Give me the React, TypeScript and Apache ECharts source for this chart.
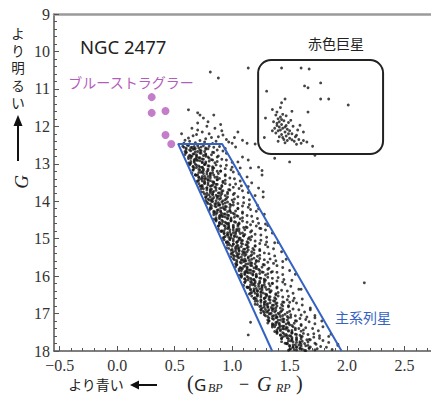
import React, { useEffect, useRef } from 'react';
import * as echarts from 'echarts';

const xRange = [-0.55, 2.73];
const yRange = [9, 18];
const xTickValues = [-0.5, 0, 0.5, 1, 1.5, 2, 2.5];
const xMinorTickValues = [-0.5,-0.4,-0.3,-0.2,-0.1,0,0.1,0.2,0.3,0.4,0.5,0.6,0.7,0.8,0.9,1,1.1,1.2,1.3,1.4,1.5,1.6,1.7,1.8,1.9,2,2.1,2.2,2.3,2.4,2.5,2.6,2.7];

const blueStragglers = [[0.30,11.22],[0.30,11.64],[0.42,11.59],[0.42,12.23],[0.47,12.47]];

const redGiants = [
  [1.14,10.44],[1.43,10.44],[1.60,10.44],[1.67,10.47],[1.77,10.84],[1.63,10.92],[1.66,10.97],[1.30,11.06],
  [1.77,11.27],[1.84,11.27],[2.01,11.43],[1.46,11.27],[1.43,11.37],[1.42,11.50],[1.66,11.62],[1.29,11.78],
  [1.38,11.70],[1.40,11.80],[1.42,11.75],[1.45,11.85],[1.39,11.92],[1.43,11.95],[1.47,11.98],[1.41,12.02],
  [1.44,12.05],[1.48,12.08],[1.37,12.05],[1.40,12.12],[1.46,12.15],[1.50,12.12],[1.52,12.20],[1.43,12.22],
  [1.47,12.26],[1.55,12.28],[1.50,12.32],[1.58,12.35],[1.54,12.40],[1.62,12.38],[1.60,12.45],[1.65,12.42],
  [1.36,11.88],[1.44,11.68],[1.49,11.90],[1.53,12.00],[1.57,12.10],[1.38,12.18],[1.45,12.35],[1.70,12.53],
  [1.72,12.77],[1.50,12.95],[1.59,11.97],[1.62,12.15],[1.28,12.30],[1.35,11.55],[1.52,11.60],[1.41,12.28],
  [1.46,12.02],[1.39,11.98],[1.42,12.10],[1.48,12.38],[1.56,12.48],[1.39,11.62],[1.43,11.82],[1.47,11.72],
  [1.41,11.88],[1.49,12.20],[1.44,12.30],[1.52,12.36],[1.56,12.24],[1.46,12.44],[1.40,12.40],[1.35,12.12],
  [1.51,11.84]
];

const fieldStars = [
  [0.88,10.71],[0.81,10.55],[0.62,11.56],[0.70,11.64],[0.72,11.70],[0.79,11.88],[0.70,11.91],[0.70,12.10],
  [0.65,12.05],[0.74,12.15],[0.85,12.05],[0.82,12.30],[0.92,12.23],[0.62,12.31],[0.59,12.37],[1.00,12.45],
  [1.09,12.37],[0.76,12.42],[0.68,12.44],[0.86,12.40],[0.95,12.35],[0.56,12.20],[0.78,12.00],[0.90,11.95],
  [1.05,12.15],[1.20,12.47],[1.03,12.55],[1.09,12.82],[1.16,13.11],[1.23,13.09],[1.26,13.30],[1.17,13.51],
  [1.27,13.89],[1.37,12.85],[1.05,12.95],[1.14,12.90],[1.26,13.18],[1.23,13.65],[1.27,13.75],[1.23,14.20],
  [1.31,14.65],[1.25,14.73],[1.40,15.10],[1.47,15.55],[1.55,15.95],[1.60,16.35],[1.68,16.90],[1.78,17.20],
  [1.86,17.55],[1.92,17.82],[2.15,16.18],[1.16,17.23],[1.14,17.57],[1.72,17.05],[1.50,16.70],[1.34,15.90],
  [0.66,12.25],[0.72,12.38],[0.80,12.20],[0.88,12.28],[0.97,12.42],[0.75,11.78],[0.84,11.70],[0.63,12.40],
  [0.91,12.12],[1.02,12.30],[1.13,12.45],[0.69,12.22],[0.83,12.46],[0.58,12.45],[0.77,12.33]
];

const mainSequence = [
  [0.57,12.53],[0.60,12.58],[0.62,12.51],[0.65,12.56],[0.68,12.59],[0.70,12.52],[0.73,12.55],[0.77,12.58],[0.80,12.53],[0.84,12.56],[0.89,12.54],[0.94,12.59],
  [0.59,12.67],[0.60,12.62],[0.64,12.65],[0.67,12.60],[0.68,12.68],[0.72,12.64],[0.76,12.67],[0.77,12.61],[0.83,12.69],[0.87,12.63],[0.92,12.66],
  [0.59,12.75],[0.64,12.79],[0.67,12.73],[0.69,12.76],[0.72,12.71],[0.75,12.78],[0.77,12.74],[0.82,12.76],[0.84,12.70],[0.88,12.79],[0.95,12.72],
  [0.62,12.81],[0.64,12.85],[0.67,12.89],[0.69,12.83],[0.72,12.84],[0.74,12.87],[0.77,12.80],[0.80,12.85],[0.82,12.89],[0.87,12.82],[0.91,12.88],
  [0.62,12.98],[0.64,12.94],[0.67,12.96],[0.69,12.90],[0.72,12.92],[0.74,12.95],[0.77,12.99],[0.80,12.93],[0.85,12.97],[0.87,12.94],[0.95,12.90],[1.00,12.96],
  [0.63,13.03],[0.66,13.08],[0.68,13.01],[0.71,13.06],[0.74,13.09],[0.76,13.02],[0.79,13.05],[0.83,13.08],[0.86,13.03],[0.90,13.06],[0.95,13.04],[1.00,13.09],
  [0.66,13.17],[0.67,13.12],[0.71,13.15],[0.74,13.10],[0.75,13.18],[0.79,13.14],[0.83,13.17],[0.84,13.11],[0.90,13.19],[0.94,13.13],[0.99,13.16],[1.07,13.11],
  [0.65,13.25],[0.70,13.29],[0.73,13.23],[0.75,13.26],[0.78,13.21],[0.81,13.28],[0.83,13.24],[0.88,13.26],[0.90,13.20],[0.94,13.29],[1.01,13.22],[1.06,13.27],
  [0.69,13.31],[0.71,13.35],[0.74,13.39],[0.76,13.33],[0.79,13.34],[0.81,13.37],[0.84,13.30],[0.87,13.35],[0.89,13.39],[0.94,13.32],[0.98,13.38],[1.13,13.35],
  [0.69,13.48],[0.71,13.44],[0.74,13.46],[0.76,13.40],[0.79,13.42],[0.81,13.45],[0.84,13.49],[0.87,13.43],[0.92,13.47],[0.94,13.44],[1.02,13.40],[1.07,13.46],
  [0.71,13.53],[0.74,13.58],[0.76,13.51],[0.79,13.56],[0.82,13.59],[0.84,13.52],[0.87,13.55],[0.91,13.58],[0.94,13.53],[0.98,13.56],[1.03,13.54],[1.08,13.59],
  [0.73,13.67],[0.74,13.62],[0.78,13.65],[0.81,13.60],[0.82,13.68],[0.86,13.64],[0.90,13.67],[0.91,13.61],[0.97,13.69],[1.01,13.63],[1.06,13.66],[1.14,13.61],
  [0.73,13.75],[0.78,13.79],[0.81,13.73],[0.83,13.76],[0.86,13.71],[0.89,13.78],[0.91,13.74],[0.96,13.76],[0.98,13.70],[1.02,13.79],[1.09,13.72],[1.14,13.77],
  [0.76,13.81],[0.78,13.85],[0.81,13.89],[0.83,13.83],[0.86,13.84],[0.88,13.87],[0.91,13.80],[0.94,13.85],[0.96,13.89],[1.01,13.82],[1.05,13.88],[1.20,13.85],
  [0.77,13.98],[0.79,13.94],[0.82,13.96],[0.84,13.90],[0.87,13.92],[0.89,13.95],[0.92,13.99],[0.95,13.93],[1.00,13.97],[1.02,13.94],[1.10,13.90],[1.15,13.96],
  [0.78,14.03],[0.81,14.08],[0.83,14.01],[0.86,14.06],[0.89,14.09],[0.91,14.02],[0.94,14.05],[0.98,14.08],[1.01,14.03],[1.05,14.06],[1.10,14.04],[1.15,14.09],
  [0.81,14.17],[0.82,14.12],[0.86,14.15],[0.89,14.10],[0.90,14.18],[0.94,14.14],[0.98,14.17],[0.99,14.11],[1.05,14.19],[1.09,14.13],[1.14,14.16],[1.22,14.11],
  [0.80,14.25],[0.85,14.29],[0.88,14.23],[0.90,14.26],[0.93,14.21],[0.96,14.28],[0.98,14.24],[1.03,14.26],[1.05,14.20],[1.09,14.29],[1.16,14.22],[1.21,14.27],
  [0.84,14.31],[0.86,14.35],[0.89,14.39],[0.91,14.33],[0.94,14.34],[0.96,14.37],[0.99,14.30],[1.02,14.35],[1.04,14.39],[1.09,14.32],[1.13,14.38],[1.28,14.35],
  [0.84,14.48],[0.86,14.44],[0.89,14.46],[0.91,14.40],[0.94,14.42],[0.96,14.45],[0.99,14.49],[1.02,14.43],[1.07,14.47],[1.09,14.44],[1.17,14.40],[1.22,14.46],
  [0.86,14.53],[0.89,14.58],[0.91,14.51],[0.94,14.56],[0.97,14.59],[0.99,14.52],[1.02,14.55],[1.06,14.58],[1.09,14.53],[1.13,14.56],[1.18,14.54],[1.23,14.59],
  [0.88,14.67],[0.89,14.62],[0.93,14.65],[0.96,14.60],[0.97,14.68],[1.01,14.64],[1.05,14.67],[1.06,14.61],[1.12,14.69],[1.16,14.63],[1.21,14.66],[1.29,14.61],
  [0.88,14.75],[0.93,14.79],[0.96,14.73],[0.98,14.76],[1.01,14.71],[1.04,14.78],[1.06,14.74],[1.11,14.76],[1.13,14.70],[1.17,14.79],[1.24,14.72],[1.29,14.77],
  [0.91,14.81],[0.93,14.85],[0.96,14.89],[0.98,14.83],[1.01,14.84],[1.03,14.87],[1.06,14.80],[1.09,14.85],[1.11,14.89],[1.16,14.82],[1.20,14.88],[1.35,14.85],
  [0.92,14.98],[0.94,14.94],[0.97,14.96],[0.99,14.90],[1.02,14.92],[1.04,14.95],[1.07,14.99],[1.10,14.93],[1.15,14.97],[1.17,14.94],[1.25,14.90],[1.30,14.96],
  [0.93,15.03],[0.96,15.08],[0.98,15.01],[1.01,15.06],[1.04,15.09],[1.06,15.02],[1.09,15.05],[1.13,15.08],[1.16,15.03],[1.20,15.06],[1.25,15.04],[1.30,15.09],
  [0.96,15.17],[0.97,15.12],[1.01,15.15],[1.04,15.10],[1.05,15.18],[1.09,15.14],[1.13,15.17],[1.14,15.11],[1.20,15.19],[1.24,15.13],[1.29,15.16],[1.37,15.11],
  [0.95,15.25],[1.00,15.29],[1.03,15.23],[1.05,15.26],[1.08,15.21],[1.11,15.28],[1.13,15.24],[1.18,15.26],[1.20,15.20],[1.24,15.29],[1.31,15.22],[1.36,15.27],
  [0.99,15.31],[1.01,15.35],[1.04,15.39],[1.06,15.33],[1.09,15.34],[1.11,15.37],[1.14,15.30],[1.17,15.35],[1.19,15.39],[1.24,15.32],[1.28,15.38],[1.43,15.35],
  [0.99,15.48],[1.01,15.44],[1.04,15.46],[1.06,15.40],[1.09,15.42],[1.11,15.45],[1.14,15.49],[1.17,15.43],[1.22,15.47],[1.24,15.44],[1.32,15.40],[1.37,15.46],
  [1.01,15.53],[1.04,15.58],[1.06,15.51],[1.09,15.56],[1.12,15.59],[1.14,15.52],[1.17,15.55],[1.21,15.58],[1.24,15.53],[1.28,15.56],[1.33,15.54],[1.38,15.59],
  [1.03,15.67],[1.04,15.62],[1.08,15.65],[1.11,15.60],[1.12,15.68],[1.16,15.64],[1.20,15.67],[1.21,15.61],[1.27,15.69],[1.31,15.63],[1.36,15.66],[1.44,15.61],
  [1.03,15.75],[1.08,15.79],[1.11,15.73],[1.13,15.76],[1.16,15.71],[1.19,15.78],[1.21,15.74],[1.26,15.76],[1.28,15.70],[1.32,15.79],[1.39,15.72],[1.44,15.77],
  [1.06,15.81],[1.08,15.85],[1.11,15.89],[1.13,15.83],[1.16,15.84],[1.18,15.87],[1.21,15.80],[1.24,15.85],[1.26,15.89],[1.31,15.82],[1.35,15.88],[1.50,15.85],
  [1.06,15.98],[1.08,15.94],[1.11,15.96],[1.13,15.90],[1.16,15.92],[1.18,15.95],[1.21,15.99],[1.24,15.93],[1.29,15.97],[1.31,15.94],[1.39,15.90],[1.44,15.96],
  [1.08,16.03],[1.11,16.08],[1.13,16.01],[1.16,16.06],[1.19,16.09],[1.21,16.02],[1.24,16.05],[1.28,16.08],[1.31,16.03],[1.35,16.06],[1.40,16.04],[1.45,16.09],
  [1.11,16.17],[1.12,16.12],[1.16,16.15],[1.19,16.10],[1.20,16.18],[1.24,16.14],[1.28,16.17],[1.29,16.11],[1.35,16.19],[1.39,16.13],[1.44,16.16],[1.52,16.11],
  [1.10,16.25],[1.15,16.29],[1.18,16.23],[1.20,16.26],[1.23,16.21],[1.26,16.28],[1.28,16.24],[1.33,16.26],[1.35,16.20],[1.39,16.29],[1.46,16.22],[1.51,16.27],
  [1.14,16.31],[1.16,16.35],[1.19,16.39],[1.21,16.33],[1.24,16.34],[1.26,16.37],[1.29,16.30],[1.32,16.35],[1.34,16.39],[1.39,16.32],[1.43,16.38],[1.58,16.35],
  [1.15,16.48],[1.17,16.44],[1.20,16.46],[1.22,16.40],[1.25,16.42],[1.27,16.45],[1.30,16.49],[1.33,16.43],[1.38,16.47],[1.40,16.44],[1.48,16.40],[1.53,16.46],
  [1.17,16.53],[1.20,16.58],[1.22,16.51],[1.25,16.56],[1.28,16.59],[1.30,16.52],[1.33,16.55],[1.37,16.58],[1.40,16.53],[1.44,16.56],[1.49,16.54],[1.54,16.59],
  [1.20,16.67],[1.21,16.62],[1.25,16.65],[1.28,16.60],[1.29,16.68],[1.33,16.64],[1.37,16.67],[1.38,16.61],[1.44,16.69],[1.48,16.63],[1.53,16.66],[1.61,16.61],
  [1.20,16.75],[1.25,16.79],[1.28,16.73],[1.30,16.76],[1.33,16.71],[1.36,16.78],[1.38,16.74],[1.43,16.76],[1.45,16.70],[1.49,16.79],[1.56,16.72],[1.61,16.77],
  [1.24,16.81],[1.26,16.85],[1.29,16.89],[1.31,16.83],[1.34,16.84],[1.36,16.87],[1.39,16.80],[1.42,16.85],[1.44,16.89],[1.49,16.82],[1.53,16.88],[1.68,16.85],
  [1.25,16.98],[1.27,16.94],[1.30,16.96],[1.32,16.90],[1.35,16.92],[1.37,16.95],[1.40,16.99],[1.43,16.93],[1.48,16.97],[1.50,16.94],[1.58,16.90],[1.63,16.96],
  [1.28,17.03],[1.31,17.08],[1.33,17.01],[1.36,17.06],[1.39,17.09],[1.41,17.02],[1.44,17.05],[1.48,17.08],[1.51,17.03],[1.55,17.06],[1.60,17.04],[1.65,17.09],
  [1.31,17.17],[1.32,17.12],[1.36,17.15],[1.39,17.10],[1.40,17.18],[1.44,17.14],[1.48,17.17],[1.49,17.11],[1.55,17.19],[1.59,17.13],[1.64,17.16],[1.72,17.11],
  [1.31,17.25],[1.36,17.29],[1.39,17.23],[1.41,17.26],[1.44,17.21],[1.47,17.28],[1.49,17.24],[1.54,17.26],[1.56,17.20],[1.60,17.29],[1.67,17.22],[1.72,17.27],
  [1.35,17.31],[1.37,17.35],[1.40,17.39],[1.42,17.33],[1.45,17.34],[1.47,17.37],[1.50,17.30],[1.53,17.35],[1.55,17.39],[1.60,17.32],[1.64,17.38],[1.79,17.35],
  [1.37,17.48],[1.39,17.44],[1.42,17.46],[1.44,17.40],[1.47,17.42],[1.49,17.45],[1.52,17.49],[1.55,17.43],[1.60,17.47],[1.62,17.44],[1.70,17.40],[1.75,17.46],
  [1.39,17.53],[1.42,17.58],[1.44,17.51],[1.47,17.56],[1.50,17.59],[1.52,17.52],[1.55,17.55],[1.59,17.58],[1.62,17.53],[1.66,17.56],[1.71,17.54],[1.76,17.59],
  [1.43,17.67],[1.44,17.62],[1.48,17.65],[1.51,17.60],[1.52,17.68],[1.56,17.64],[1.60,17.67],[1.61,17.61],[1.67,17.69],[1.71,17.63],[1.76,17.66],[1.84,17.61],
  [1.43,17.75],[1.48,17.79],[1.51,17.73],[1.53,17.76],[1.56,17.71],[1.59,17.78],[1.61,17.74],[1.66,17.76],[1.68,17.70],[1.72,17.79],[1.79,17.72],[1.84,17.77],
  [1.48,17.81],[1.50,17.85],[1.53,17.89],[1.55,17.83],[1.58,17.84],[1.60,17.87],[1.63,17.80],[1.66,17.85],[1.68,17.89],[1.73,17.82],[1.77,17.88],[1.92,17.85],
  [1.49,17.98],[1.51,17.94],[1.54,17.96],[1.56,17.90],[1.59,17.92],[1.61,17.95],[1.64,17.99],[1.67,17.93],[1.72,17.97],[1.74,17.94],[1.82,17.90],[1.87,17.96]
];

// the dense ridge of the main sequence, close to its blue edge
const mainSequenceCore = [
  [0.58,12.56],[0.61,12.50],[0.64,12.57],[0.67,12.54],[0.71,12.58],[0.75,12.52],
  [0.60,12.69],[0.63,12.63],[0.66,12.61],[0.70,12.67],[0.73,12.65],[0.79,12.60],
  [0.60,12.70],[0.63,12.77],[0.66,12.74],[0.69,12.79],[0.73,12.72],[0.77,12.76],
  [0.62,12.86],[0.65,12.80],[0.68,12.87],[0.71,12.84],[0.75,12.88],[0.79,12.82],
  [0.64,12.99],[0.67,12.93],[0.70,12.91],[0.74,12.97],[0.77,12.95],[0.83,12.90],
  [0.63,13.00],[0.66,13.07],[0.69,13.04],[0.72,13.09],[0.76,13.02],[0.80,13.06],
  [0.66,13.16],[0.69,13.10],[0.72,13.17],[0.75,13.14],[0.79,13.18],[0.83,13.12],
  [0.68,13.29],[0.71,13.23],[0.74,13.21],[0.78,13.27],[0.81,13.25],[0.87,13.20],
  [0.68,13.30],[0.71,13.37],[0.74,13.34],[0.77,13.39],[0.81,13.32],[0.85,13.36],
  [0.70,13.46],[0.73,13.40],[0.76,13.47],[0.79,13.44],[0.83,13.48],[0.87,13.42],
  [0.73,13.59],[0.76,13.53],[0.79,13.51],[0.83,13.57],[0.86,13.55],[0.92,13.50],
  [0.72,13.60],[0.75,13.67],[0.78,13.64],[0.81,13.69],[0.85,13.62],[0.89,13.66],
  [0.75,13.76],[0.78,13.70],[0.81,13.77],[0.84,13.74],[0.88,13.78],[0.92,13.72],
  [0.77,13.89],[0.80,13.83],[0.83,13.81],[0.87,13.87],[0.90,13.85],[0.96,13.80],
  [0.77,13.90],[0.80,13.97],[0.83,13.94],[0.86,13.99],[0.90,13.92],[0.94,13.96],
  [0.79,14.06],[0.82,14.00],[0.85,14.07],[0.88,14.04],[0.92,14.08],[0.96,14.02],
  [0.82,14.19],[0.85,14.13],[0.88,14.11],[0.92,14.17],[0.95,14.15],[1.01,14.10],
  [0.81,14.20],[0.84,14.27],[0.87,14.24],[0.90,14.29],[0.94,14.22],[0.98,14.26],
  [0.84,14.36],[0.87,14.30],[0.90,14.37],[0.93,14.34],[0.97,14.38],[1.01,14.32],
  [0.86,14.49],[0.89,14.43],[0.92,14.41],[0.96,14.47],[0.99,14.45],[1.05,14.40],
  [0.86,14.50],[0.89,14.57],[0.92,14.54],[0.95,14.59],[0.99,14.52],[1.03,14.56],
  [0.88,14.66],[0.91,14.60],[0.94,14.67],[0.97,14.64],[1.01,14.68],[1.05,14.62],
  [0.91,14.79],[0.94,14.73],[0.97,14.71],[1.01,14.77],[1.04,14.75],[1.10,14.70],
  [0.90,14.80],[0.93,14.87],[0.96,14.84],[0.99,14.89],[1.03,14.82],[1.07,14.86],
  [0.93,14.96],[0.96,14.90],[0.99,14.97],[1.02,14.94],[1.06,14.98],[1.10,14.92],
  [0.95,15.09],[0.98,15.03],[1.01,15.01],[1.05,15.07],[1.08,15.05],[1.14,15.00],
  [0.95,15.10],[0.98,15.17],[1.01,15.14],[1.04,15.19],[1.08,15.12],[1.12,15.16],
  [0.97,15.26],[1.00,15.20],[1.03,15.27],[1.06,15.24],[1.10,15.28],[1.14,15.22],
  [1.00,15.39],[1.03,15.33],[1.06,15.31],[1.10,15.37],[1.13,15.35],[1.19,15.30],
  [0.99,15.40],[1.02,15.47],[1.05,15.44],[1.08,15.49],[1.12,15.42],[1.16,15.46],
  [1.02,15.56],[1.05,15.50],[1.08,15.57],[1.11,15.54],[1.15,15.58],[1.19,15.52],
  [1.04,15.69],[1.07,15.63],[1.10,15.61],[1.14,15.67],[1.17,15.65],[1.23,15.60],
  [1.04,15.70],[1.07,15.77],[1.10,15.74],[1.13,15.79],[1.17,15.72],[1.21,15.76],
  [1.06,15.86],[1.09,15.80],[1.12,15.87],[1.15,15.84],[1.19,15.88],[1.23,15.82],
  [1.08,15.99],[1.11,15.93],[1.14,15.91],[1.18,15.97],[1.21,15.95],[1.27,15.90],
  [1.08,16.00],[1.11,16.07],[1.14,16.04],[1.17,16.09],[1.21,16.02],[1.25,16.06],
  [1.11,16.16],[1.14,16.10],[1.17,16.17],[1.20,16.14],[1.24,16.18],[1.28,16.12],
  [1.13,16.29],[1.16,16.23],[1.19,16.21],[1.23,16.27],[1.26,16.25],[1.32,16.20],
  [1.13,16.30],[1.16,16.37],[1.19,16.34],[1.22,16.39],[1.26,16.32],[1.30,16.36],
  [1.16,16.46],[1.19,16.40],[1.22,16.47],[1.25,16.44],[1.29,16.48],[1.33,16.42],
  [1.19,16.59],[1.22,16.53],[1.25,16.51],[1.29,16.57],[1.32,16.55],[1.38,16.50],
  [1.19,16.60],[1.22,16.67],[1.25,16.64],[1.28,16.69],[1.32,16.62],[1.36,16.66],
  [1.22,16.76],[1.25,16.70],[1.28,16.77],[1.31,16.74],[1.35,16.78],[1.39,16.72],
  [1.25,16.89],[1.28,16.83],[1.31,16.81],[1.35,16.87],[1.38,16.85],[1.44,16.80],
  [1.25,16.90],[1.28,16.97],[1.31,16.94],[1.34,16.99],[1.38,16.92],[1.42,16.96],
  [1.29,17.06],[1.32,17.00],[1.35,17.07],[1.38,17.04],[1.42,17.08],[1.46,17.02],
  [1.32,17.19],[1.35,17.13],[1.38,17.11],[1.42,17.17],[1.45,17.15],[1.51,17.10],
  [1.32,17.20],[1.35,17.27],[1.38,17.24],[1.41,17.29],[1.45,17.22],[1.49,17.26],
  [1.35,17.36],[1.38,17.30],[1.41,17.37],[1.44,17.34],[1.48,17.38],[1.52,17.32],
  [1.39,17.49],[1.42,17.43],[1.45,17.41],[1.49,17.47],[1.52,17.45],[1.58,17.40],
  [1.39,17.50],[1.42,17.57],[1.45,17.54],[1.48,17.59],[1.52,17.52],[1.56,17.56],
  [1.43,17.66],[1.46,17.60],[1.49,17.67],[1.52,17.64],[1.56,17.68],[1.60,17.62],
  [1.46,17.79],[1.49,17.73],[1.52,17.71],[1.56,17.77],[1.59,17.75],[1.65,17.70],
  [1.47,17.80],[1.50,17.87],[1.53,17.84],[1.56,17.89],[1.60,17.82],[1.64,17.86],
  [1.50,17.96],[1.53,17.90],[1.56,17.97],[1.59,17.94],[1.63,17.98],[1.67,17.92]
];

// Main-sequence selection outline (open at the bottom axis) and red-giant box (x0, y0, x1, y1)
const msBox = [[1.348,18],[0.53,12.47],[0.913,12.47],[1.952,18]];
const giantBox = [[1.226,10.23,2.313,12.74]];
const verticalTitleChars = ['よ', 'り', '明', 'る', 'い'];

const SERIF = '"Liberation Serif", "DejaVu Serif", serif';
const SANS = '"Noto Sans", sans-serif';
const JP = '"Noto Sans CJK JP", "Noto Sans", sans-serif';
const PURPLE = '#b45cbb';
const BLUE = '#3563c4';
const DOT = '#161616';

export default function App() {
  const ref = useRef<HTMLDivElement>(null);
  useEffect(() => {
    if (!ref.current) return;
    const chart = echarts.init(ref.current, null, { renderer: 'svg' });
    const txt = (x: number, y: number, text: string, font: string, size: number, color: string, style: any = {}) => ({
      type: 'text', x, y,
      style: { text, fontFamily: font, fontSize: size, fill: color, align: 'left', verticalAlign: 'middle', ...style },
    });
    const starSeries = (data: number[][]) => ({
      type: 'scatter', data, symbol: 'circle', symbolSize: 2.9, itemStyle: { color: DOT }, z: 2,
    });
    chart.setOption({
      animation: false,
      grid: { left: 54, top: 14, right: 0, bottom: 44 },
      xAxis: [
        {
          type: 'value', min: xRange[0], max: xRange[1],
          axisLine: { onZero: false, lineStyle: { color: '#555', width: 1.5 } },
          axisTick: { inside: true, length: 3, customValues: xMinorTickValues, lineStyle: { color: '#555' } },
          axisLabel: {
            customValues: xTickValues, margin: 6, color: '#333', fontFamily: SERIF, fontSize: 16,
            formatter: (v: number) => (v < 0 ? '\u2212' : '') + Math.abs(v).toFixed(1),
          },
          splitLine: { show: false },
        },
        {
          type: 'value', min: xRange[0], max: xRange[1], position: 'bottom',
          axisLine: { show: false },
          axisTick: { inside: true, length: 5, customValues: xTickValues, lineStyle: { color: '#555' } },
          axisLabel: { show: false }, splitLine: { show: false },
        },
        {
          type: 'value', min: xRange[0], max: xRange[1], position: 'top',
          axisLine: { onZero: false, lineStyle: { color: '#9a9a9a', width: 2.5 } },
          axisTick: { show: false }, axisLabel: { show: false }, splitLine: { show: false },
        },
      ],
      yAxis: {
        type: 'value', inverse: true, min: yRange[0], max: yRange[1], interval: 1,
        axisLine: { onZero: false, lineStyle: { color: '#555', width: 1.5 } },
        axisTick: { inside: true, length: 5, lineStyle: { color: '#555' } },
        minorTick: { show: true, splitNumber: 5, length: 3, lineStyle: { color: '#555' } },
        axisLabel: { margin: 4, color: '#333', fontFamily: SERIF, fontSize: 16 },
        splitLine: { show: false },
      },
      series: [
        starSeries(mainSequence),
        starSeries(mainSequenceCore),
        starSeries(fieldStars),
        starSeries(redGiants),
        {
          type: 'scatter', data: blueStragglers, symbol: 'circle', symbolSize: 8,
          itemStyle: { color: PURPLE }, z: 4,
        },
        {
          type: 'line', data: msBox, symbol: 'none', lineStyle: { color: BLUE, width: 2 }, z: 5,
        },
        {
          type: 'custom', data: giantBox, z: 5, clip: false,
          renderItem: (_p: any, api: any) => {
            const a = api.coord([api.value(0), api.value(1)]);
            const b = api.coord([api.value(2), api.value(3)]);
            return {
              type: 'rect',
              shape: { x: Math.min(a[0], b[0]), y: Math.min(a[1], b[1]), width: Math.abs(b[0] - a[0]), height: Math.abs(b[1] - a[1]), r: 13 },
              style: { fill: 'none', stroke: '#222', lineWidth: 2 },
            };
          },
        },
      ],
      graphic: [
        txt(80, 46, 'NGC 2477', SANS, 18.5, '#222'),
        txt(336, 43, '赤色巨星', JP, 14, '#222', { align: 'center' }),
        txt(131, 82, 'ブルーストラグラー', JP, 14, PURPLE, { align: 'center' }),
        txt(363, 317, '主系列星', JP, 14, BLUE, { align: 'center' }),
        // left vertical title
        ...verticalTitleChars.map((c, i) => txt(18, 33 + i * 17.2, c, JP, 13.5, '#222', { align: 'center', lineHeight: 14 })),
        { type: 'line', shape: { x1: 18, y1: 161, x2: 18, y2: 124 }, style: { stroke: '#111', lineWidth: 2 } },
        { type: 'polygon', shape: { points: [[13.5, 126], [22.5, 126], [18, 115]] }, style: { fill: '#111' } },
        { type: 'text', x: 21, y: 182, rotation: Math.PI / 2,
          style: { text: 'G', fontFamily: SERIF, fontStyle: 'italic', fontSize: 19, fill: '#222', align: 'center', verticalAlign: 'middle' } },
        // bottom title
        txt(96, 384, 'より青い', JP, 14, '#222', { align: 'center' }),
        { type: 'line', shape: { x1: 157, y1: 385, x2: 137, y2: 385 }, style: { stroke: '#111', lineWidth: 2 } },
        { type: 'polygon', shape: { points: [[139, 380.5], [139, 389.5], [130, 385]] }, style: { fill: '#111' } },
        txt(187, 383, '(', SERIF, 20, '#222'),
        txt(194, 384, 'G', SANS, 17, '#222'),
        txt(208, 388, 'BP', SERIF, 12, '#222', { fontStyle: 'italic' }),
        txt(239, 384, '\u2212', SERIF, 18, '#222'),
        txt(257, 384, 'G', SERIF, 20, '#222', { fontStyle: 'italic' }),
        txt(276, 388, 'RP', SERIF, 12, '#222', { fontStyle: 'italic' }),
        txt(296, 383, ')', SERIF, 20, '#222'),
      ],
    });
    return () => chart.dispose();
  }, []);
  return <div ref={ref} style={{ position: 'absolute', left: 0, top: 0, width: 431, height: 395 }} />;
}
